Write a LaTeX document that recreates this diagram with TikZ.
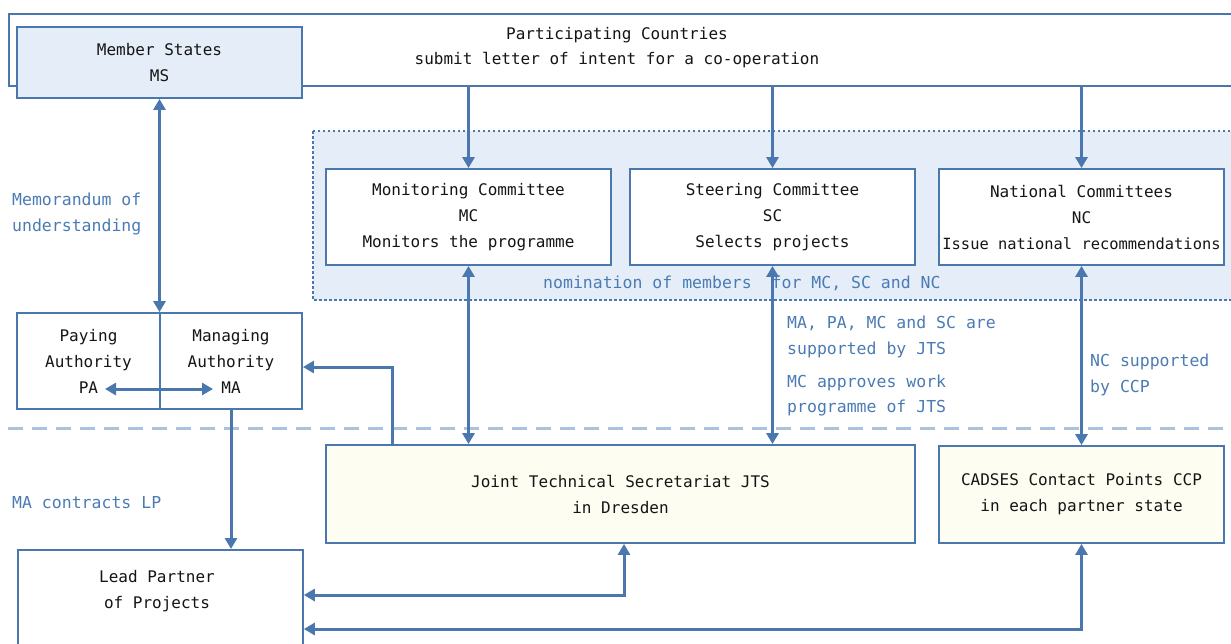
\documentclass[tikz,border=0pt]{standalone}
\usepackage{fontspec}
\setmonofont{DejaVu Sans Mono}
\usetikzlibrary{arrows.meta}

\definecolor{lineblue}{HTML}{4A78AE}
\definecolor{txtblue}{HTML}{4A7BB4}
\definecolor{paleblue}{HTML}{E5EEF8}
\definecolor{ivory}{HTML}{FEFDF1}
\definecolor{sepblue}{HTML}{A9C3DF}
\definecolor{ink}{HTML}{151515}

\newcommand{\diagfont}{\ttfamily\fontsize{16}{26}\selectfont}
\newcommand{\notefont}{\ttfamily\fontsize{16.5}{26}\selectfont}

\tikzset{
  box/.style={draw=lineblue, line width=1.8pt, fill=white, inner sep=0pt,
              align=center, text=ink, font=\diagfont},
  plaintext/.style={inner sep=0pt, align=center, text=ink, font=\diagfont},
  note/.style={inner sep=0pt, anchor=base west, text=txtblue, font=\notefont},
  tip/.tip={Triangle[length=11pt,width=12pt]},
  link/.style={draw=lineblue, line width=3pt, -tip},
  twoway/.style={draw=lineblue, line width=3pt, tip-tip},
  separator/.style={draw=sepblue, line width=3pt, dash pattern=on 15pt off 9pt}
}

\begin{document}
\begin{tikzpicture}[x=1pt, y=-1pt]
\useasboundingbox (0,0) rectangle (1231,643);
\clip (0,0) rectangle (1231,643);

% top band: participating countries
\node[box, minimum width=1242, minimum height=72, anchor=north west] (band) at (8,13) {};
\node[plaintext, font=\ttfamily\fontsize{16}{25}\selectfont] (pc) at (617,48)
  {Participating Countries\\submit letter of intent for a co-operation};

% member states
\node[box, fill=paleblue, minimum width=285, minimum height=71] (ms) at (159.5,62.5)
  {Member States\\MS};

% committee area
\draw[lineblue, line width=1.6pt, fill=paleblue, dash pattern=on 2.5pt off 2.5pt]
  (313,131) rectangle (1250,300);

\node[box, minimum width=285, minimum height=96] (mc) at (468.5,217)
  {Monitoring Committee\\MC\\Monitors the programme};
\node[box, minimum width=285, minimum height=96] (sc) at (772.5,217)
  {Steering Committee\\SC\\Selects projects};
\node[box, minimum width=285, minimum height=96] (nc) at (1081.5,217)
  {National Committees\\NC\\{\fontsize{15.4}{26}\selectfont Issue national recommendations}};

\node[note] (nom) at (543,288) {nomination of members~~for MC, SC and NC};

% authorities
\node[box, minimum width=143, minimum height=96] (pa) at (88.5,361)
  {Paying\\Authority\\PA};
\node[box, minimum width=142, minimum height=96] (ma) at (231,361)
  {Managing\\Authority\\MA};
\coordinate (paend) at (105,389);
\coordinate (maend) at (213,389);

% lower level
\node[box, fill=ivory, minimum width=589, minimum height=98] (jts) at (620.5,494)
  {Joint Technical Secretariat JTS\\in Dresden};
\node[box, fill=ivory, minimum width=285, minimum height=97] (ccp) at (1081.5,494.5)
  {CADSES Contact Points CCP\\in each partner state};
\node[box, minimum width=285, minimum height=131, anchor=north west] (lp) at (17,549) {};
\node[plaintext] (lptext) at (157,591) {Lead Partner\\of Projects};

% separator between levels
\draw[separator] (8,428) -- (1231,428);

% annotations
\node[note] (mou1) at (12,205) {Memorandum of};
\node[note] (mou2) at (12,231) {understanding};
\node[note] (malp) at (12,508) {MA contracts LP};
\node[note] (sup1) at (787,328) {MA, PA, MC and SC are};
\node[note] (sup2) at (787,354) {supported by JTS};
\node[note] (wp1)  at (787,387) {MC approves work};
\node[note] (wp2)  at (787,412) {programme of JTS};
\node[note] (ncs1) at (1090,366) {NC supported};
\node[note] (ncs2) at (1090,392) {by CCP};

% connectors
\draw[link] (band.south -| mc.north) -- (mc.north);
\draw[link] (band.south -| sc.north) -- (sc.north);
\draw[link] (band.south -| nc.north) -- (nc.north);

\draw[twoway] (ms.south) -- (ms.south |- pa.north);
\draw[twoway] (paend) -- (maend);

\draw[twoway] (mc.south) -- (mc.south |- jts.north);
\draw[twoway] (sc.south) -- (sc.south |- jts.north);
\draw[twoway] (nc.south) -- (ccp.north);

\draw[link] (ma.south) -- (ma.south |- lp.north);
\draw[link] ([xshift=-228.5pt]jts.north) |- ([yshift=-6pt]ma.east);
\draw[twoway] ([xshift=3.5pt]jts.south) |- ([yshift=-46pt]lp.north east);
\draw[twoway] (ccp.south) |- ([yshift=-80pt]lp.north east);
\end{tikzpicture}
\end{document}
